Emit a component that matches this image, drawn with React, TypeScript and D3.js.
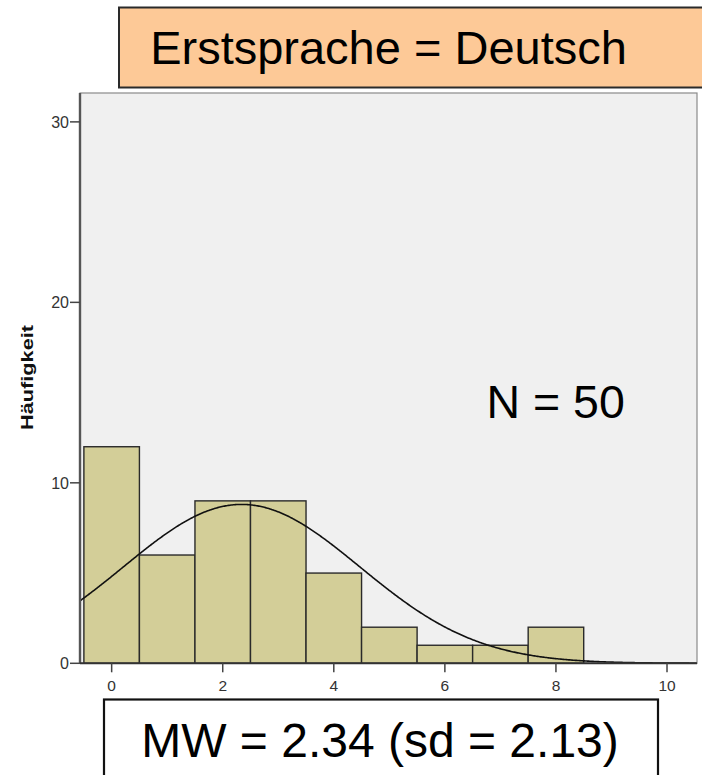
import React, { useEffect } from "react";
import * as d3 from "d3";

const binCenters = [0, 1, 2, 3, 4, 5, 6, 7, 8];
const counts = [12, 6, 9, 9, 5, 2, 1, 1, 2];
const xTicks = [0, 2, 4, 6, 8, 10];
const yTicks = [0, 10, 20, 30];
const meanValue = 2.34;
const sdValue = 2.13;
const titleText = "Erstsprache = Deutsch";
const nText = "N = 50";
const statText = "MW = 2.34 (sd = 2.13)";
const yLabel = "Häufigkeit";

const W = 702;
const H = 775;
const plot = { left: 80, right: 697, top: 93, bottom: 663.3 };
const font = "'Liberation Sans', Arial, sans-serif";

export default function App() {
  useEffect(() => {
    document.body.style.margin = "0";
  }, []);

  const x = d3.scaleLinear().domain([-0.57, 10.54]).range([plot.left, plot.right]);
  const y = d3.scaleLinear().domain([0, 31.6]).range([plot.bottom, plot.top]);

  const total = d3.sum(counts);
  const pdf = (v: number) =>
    (total / (sdValue * Math.sqrt(2 * Math.PI))) *
    Math.exp(-0.5 * ((v - meanValue) / sdValue) ** 2);
  const curvePts = d3.range(-0.57, 10.54, 0.02).map((v) => [v, pdf(v)] as [number, number]);
  const line = d3
    .line<[number, number]>()
    .x((d) => x(d[0]))
    .y((d) => y(d[1]))
    .curve(d3.curveLinear);

  return (
    <svg
      width={W}
      height={H}
      style={{ position: "absolute", left: 0, top: 0, display: "block" }}
      fontFamily={font}
    >
      <rect x={0} y={0} width={W} height={H} fill="#ffffff" />
      {/* plot background */}
      <rect
        x={plot.left}
        y={plot.top}
        width={plot.right - plot.left}
        height={plot.bottom - plot.top}
        fill="#f0f0f0"
        stroke="#8a8a8a"
        strokeWidth={1.2}
      />
      {/* bars */}
      {binCenters.map((c, i) => (
        <rect
          key={i}
          x={x(c - 0.5)}
          y={y(counts[i])}
          width={x(c + 0.5) - x(c - 0.5)}
          height={y(0) - y(counts[i])}
          fill="#d3ce98"
          stroke="#2a2a2a"
          strokeWidth={1.4}
        />
      ))}
      {/* normal curve */}
      <path d={line(curvePts) || ""} fill="none" stroke="#111" strokeWidth={1.6} />
      {/* axes */}
      <line x1={plot.left} x2={plot.left} y1={plot.top} y2={plot.bottom} stroke="#555" strokeWidth={2.4} />
      <line x1={plot.left} x2={plot.right} y1={plot.bottom} y2={plot.bottom} stroke="#333" strokeWidth={2} />
      {yTicks.map((t) => (
        <g key={"y" + t}>
          <line x1={plot.left - 10} x2={plot.left} y1={y(t)} y2={y(t)} stroke="#444" strokeWidth={1.5} />
          <text
            x={plot.left - 11}
            y={y(t) + 6}
            textAnchor="end"
            fontSize={16}
            fill="#333"
          >
            {t}
          </text>
        </g>
      ))}
      {xTicks.map((t) => (
        <g key={"x" + t}>
          <line x1={x(t)} x2={x(t)} y1={plot.bottom} y2={plot.bottom + 9} stroke="#444" strokeWidth={1.5} />
          <text x={x(t)} y={690.5} textAnchor="middle" fontSize={15.5} fill="#333">
            {t}
          </text>
        </g>
      ))}
      {/* y label */}
      <text
        transform="translate(33,377.5) rotate(-90)"
        textAnchor="middle"
        fontSize={16}
        fontWeight="bold"
        fill="#111"
        textLength={105}
        lengthAdjust="spacingAndGlyphs"
      >
        {yLabel}
      </text>
      {/* N label */}
      <text x={486.5} y={417.7} fontSize={46.5} fill="#000">
        {nText}
      </text>
      {/* title box */}
      <rect x={119} y={7.5} width={600} height={80} fill="#fdc997" stroke="#2a2a2a" strokeWidth={2} />
      <text x={388.5} y={64} textAnchor="middle" fontSize={47} fill="#000">
        {titleText}
      </text>
      {/* bottom stat box */}
      <rect x={104} y={699.5} width={554} height={90} fill="#ffffff" stroke="#111" strokeWidth={2.2} />
      <text x={380} y={757} textAnchor="middle" fontSize={48} fill="#000">
        {statText}
      </text>
    </svg>
  );
}
